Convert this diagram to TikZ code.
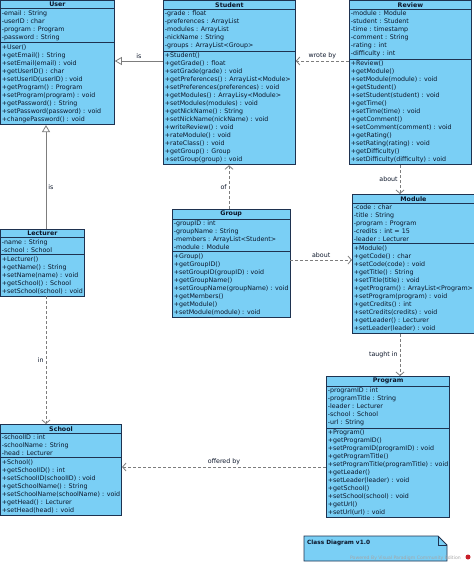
\documentclass[tikz,border=0pt]{standalone}
\usepackage{fontspec}
\usetikzlibrary{shapes.multipart, arrows.meta}
\newfontfamily\umlfont{DejaVu Sans}
\definecolor{classfill}{RGB}{122, 207, 245}
\definecolor{classline}{RGB}{30, 50, 80}
\definecolor{classtext}{RGB}{10, 20, 40}
\definecolor{linkgray}{RGB}{125, 125, 125}
\definecolor{vplogo}{RGB}{200, 30, 40}

\begin{document}
\begin{tikzpicture}[
	x=1pt, y=-1pt,
	% Styles for the class boxes and the links between them
	umlclass/.style={rectangle split, rectangle split parts=3, draw=classline, line width=0.8pt,
		fill=classfill, anchor=north west, inner xsep=1.5pt, inner ysep=1.5pt, minimum width=#1,
		rectangle split part align={center, left, left}, align=left, text=classtext,
		node font=\umlfont\fontsize{6.3}{8}\selectfont, font=\umlfont\fontsize{6.3}{8}\selectfont},
	genlink/.style={draw=linkgray, line width=0.8pt, -{Triangle[open, length=7pt, width=8pt, fill=white]}},
	deplink/.style={draw=linkgray, line width=0.8pt, dash pattern=on 3pt off 2pt,
		-{Straight Barb[length=3.5pt, width=8pt]}},
	linklabel/.style={font=\umlfont\fontsize{6.3}{8}\selectfont, text=classtext, inner sep=2pt}
	]
	\useasboundingbox (0,0) rectangle (474,568);
	
	% ==========================================
	% 1. TOP ROW: USER, STUDENT, REVIEW
	% ==========================================
	\node[umlclass=114pt] (user) at (0,0) {\textbf{User}
		\nodepart{two}-email : String\\-userID : char\\-program : Program\\-password : String
		\nodepart{three}+User()\\+getEmail() : String\\+setEmail(email) : void\\+getUserID() : char\\
		+setUserID(userID) : void\\+getProgram() : Program\\+setProgram(program) : void\\
		+getPassword() : String\\+setPassword(password) : void\\+changePassword() : void};
	
	\node[umlclass=132pt] (student) at (163,0) {\textbf{Student}
		\nodepart{two}-grade : float\\-preferences : ArrayList\\-modules : ArrayList\\-nickName : String\\
		-groups : ArrayList<Group>
		\nodepart{three}+Student()\\+getGrade() : float\\+setGrade(grade) : void\\
		+getPreferences() : ArrayList<Module>\\+setPreferences(preferences) : void\\
		+getModules() : ArrayLisy<Module>\\+setModules(modules) : void\\+getNickName() : String\\
		+setNickName(nickName) : void\\+writeReview() : void\\+rateModule() : void\\
		+rateClass() : void\\+getGroup() : Group\\+setGroup(group) : void};
	
	\node[umlclass=122pt] (review) at (349,0) {\textbf{Review}
		\nodepart{two}-module : Module\\-student : Student\\-time : timestamp\\-comment : String\\
		-rating : int\\-difficulty : int
		\nodepart{three}+Review()\\+getModule()\\+setModule(module) : void\\+getStudent()\\
		+setStudent(student) : void\\+getTime()\\+setTime(time) : void\\+getComment()\\
		+setComment(comment) : void\\+getRating()\\+setRating(rating) : void\\+getDifficulty()\\
		+setDifficulty(difficulty) : void};
	
	% ==========================================
	% 2. MIDDLE ROW: LECTURER, GROUP, MODULE
	% ==========================================
	\node[umlclass=83pt] (lecturer) at (0,229) {\textbf{Lecturer}
		\nodepart{two}-name : String\\-school : School
		\nodepart{three}+Lecturer()\\+getName() : String\\+setName(name) : void\\
		+getSchool() : School\\+setSchool(school) : void};
	
	\node[umlclass=114pt] (group) at (172,209) {\textbf{Group}
		\nodepart{two}-groupID : int\\-groupName : String\\-members : ArrayList<Student>\\
		-module : Module
		\nodepart{three}+Group()\\+getGroupID()\\+setGroupID(groupID) : void\\+getGroupName()\\
		+setGroupName(groupName) : void\\+getMembers()\\+getModule()\\+setModule(module) : void};
	
	\node[umlclass=120pt] (module) at (352,194) {\textbf{Module}
		\nodepart{two}-code : char\\-title : String\\-program : Program\\-credits : int = 15\\
		-leader : Lecturer
		\nodepart{three}+Module()\\+getCode() : char\\+setCode(code) : void\\+getTitle() : String\\
		+setTitle(title) : void\\+getProgram() : ArrayList<Program>\\+setProgram(program) : void\\
		+getCredits() : int\\+setCredits(credits) : void\\+getLeader() : Lecturer\\
		+setLeader(leader) : void};
	
	% ==========================================
	% 3. BOTTOM ROW: SCHOOL, PROGRAM
	% ==========================================
	\node[umlclass=118pt] (school) at (0,424) {\textbf{School}
		\nodepart{two}-schoolID : int\\-schoolName : String\\-head : Lecturer
		\nodepart{three}+School()\\+getSchoolID() : int\\+setSchoolID(schoolID) : void\\
		+getSchoolName() : String\\+setSchoolName(schoolName) : void\\+getHead() : Lecturer\\
		+setHead(head) : void};
	
	\node[umlclass=121pt] (program) at (326,376) {\textbf{Program}
		\nodepart{two}-programID : int\\-programTitle : String\\-leader : Lecturer\\-school : School\\
		-url : String
		\nodepart{three}+Program()\\+getProgramID()\\+setProgramID(programID) : void\\
		+getProgramTitle()\\+setProgramTitle(programTitle) : void\\+getLeader()\\
		+setLeader(leader) : void\\+getSchool()\\+setSchool(school) : void\\+getUrl()\\
		+setUrl(url) : void};
	
	% ==========================================
	% 4. LINKS
	% ==========================================
	% Generalizations
	\draw[genlink] ([yshift=-61pt]student.north west) coordinate (su) -- (su -| user.east)
		node[linklabel, midway, above] {is};
	\draw[genlink] ([xshift=46pt]lecturer.north west) coordinate (lu) -- (lu |- user.south)
		node[linklabel, pos=0.4, right] {is};
	
	% Dependencies
	\draw[deplink] ([yshift=-61pt]review.north west) coordinate (rs) -- (rs -| student.east)
		node[linklabel, midway, above] {wrote by};
	\draw[deplink] ([xshift=57pt]group.north west) coordinate (gs) -- (gs |- student.south)
		node[linklabel, midway, left] {of};
	\draw[deplink] ([xshift=51pt]review.south west) coordinate (rm) -- (rm |- module.north)
		node[linklabel, midway, left] {about};
	\draw[deplink] ([yshift=-51pt]group.north east) coordinate (gm) -- (gm -| module.west)
		node[linklabel, midway, above] {about};
	\draw[deplink] ([xshift=48pt]module.south west) coordinate (mp) -- (mp |- program.north)
		node[linklabel, midway, left] {taught in};
	\draw[deplink] ([xshift=46pt]lecturer.south west) coordinate (ls) -- (ls |- school.north)
		node[linklabel, midway, left] {in};
	\draw[deplink] ([yshift=-91pt]program.north west) coordinate (ps) -- (ps -| school.east)
		node[linklabel, midway, above] {offered by};
	
	% ==========================================
	% 5. NOTE
	% ==========================================
	\draw[classline, line width=0.8pt, fill=classfill]
		(304,536) -- (438,536) -- (447,545) -- (447,561) -- (304,561) -- cycle;
	\draw[classline, line width=0.8pt] (438,536) -- (438,545) -- (447,545);
	\node[linklabel, anchor=north west, font=\umlfont\bfseries\fontsize{5.8}{7}\selectfont] (title) at (305,538) {Class Diagram v1.0};
	\node[linklabel, anchor=east, text=black!35, font=\umlfont\fontsize{4.6}{6}\selectfont] (powered) at (463,558) {Powered By Visual Paradigm Community Edition};
	\fill[vplogo] (468,557) circle (2.5);
	
\end{tikzpicture}
\end{document}
